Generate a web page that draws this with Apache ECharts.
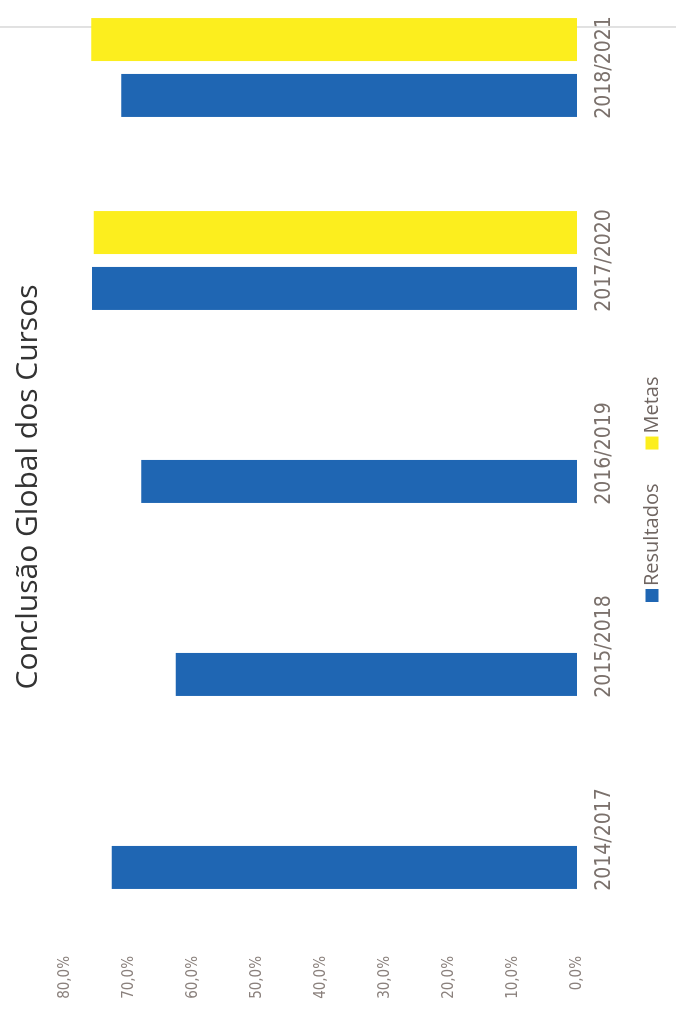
<!DOCTYPE html>
<html>
<head>
<meta charset="utf-8">
<script src="https://cdn.jsdelivr.net/npm/echarts@6/dist/echarts.min.js"></script>
<style>
  html, body { margin: 0; padding: 0; background: #ffffff; width: 676px; height: 1014px; overflow: hidden; }
  #chart {
    position: absolute; left: 0; top: 0;
    width: 1060px; height: 676px;
    transform-origin: 0 0;
    transform: translateY(1014px) rotate(-90deg);
  }
</style>
</head>
<body>
<div id="chart"></div>
<script>
const categories = ['2014/2017', '2015/2018', '2016/2019', '2017/2020', '2018/2021'];
const resultados = [72.7, 62.7, 68.1, 75.8, 71.2];
const metas = [null, null, null, 75.5, 75.9];
const seriesNames = ['Resultados', 'Metas'];
const valueMin = 0;
const valueMax = 80;
const valueStep = 10;
const titleText = 'Conclusão Global dos Cursos';

const chart = echarts.init(document.getElementById('chart'), null, { renderer: 'canvas' });
chart.setOption({
  backgroundColor: '#ffffff',
  animation: false,
  title: {
    text: titleText,
    left: 522,
    top: 8,
    textAlign: 'center',
    textStyle: { fontFamily: 'Open Sans', fontSize: 30, fontWeight: 'normal', color: '#333333' }
  },
  legend: {
    data: seriesNames,
    left: 407,
    top: 637,
    itemWidth: 13,
    itemHeight: 13,
    itemGap: 34,
    icon: 'rect',
    textStyle: { fontFamily: 'Open Sans', fontSize: 20, color: '#6f6561', padding: [0, 0, 0, -2] }
  },
  grid: { left: 78, width: 965, top: 65, bottom: 99, containLabel: false },
  graphic: [{
    type: 'line', z: -10,
    shape: { x1: 987, y1: 0, x2: 987, y2: 676 },
    style: { stroke: '#c4c4c4', lineWidth: 1 }
  }],
  xAxis: {
    type: 'category',
    data: categories,
    axisLine: { show: false },
    axisTick: { show: false },
    axisLabel: { fontFamily: 'Liberation Sans Narrow, DejaVu Sans Condensed', fontSize: 21, color: '#7b716c', margin: 17 }
  },
  yAxis: {
    type: 'value',
    min: valueMin,
    max: valueMax,
    interval: valueStep,
    splitLine: { show: false },
    axisLine: { show: false },
    axisTick: { show: false },
    axisLabel: {
      fontFamily: 'Liberation Sans Narrow, DejaVu Sans Condensed',
      fontSize: 15,
      color: '#8a807c',
      margin: 20,
      formatter: v => v.toFixed(1).replace('.', ',') + '%'
    }
  },
  series: [
    { name: seriesNames[0], type: 'bar', data: resultados, barWidth: 43, barGap: '30%', itemStyle: { color: '#1f66b3' } },
    { name: seriesNames[1], type: 'bar', data: metas, barWidth: 43, barGap: '30%', itemStyle: { color: '#fcee1e' } }
  ]
});
</script>
</body>
</html>
